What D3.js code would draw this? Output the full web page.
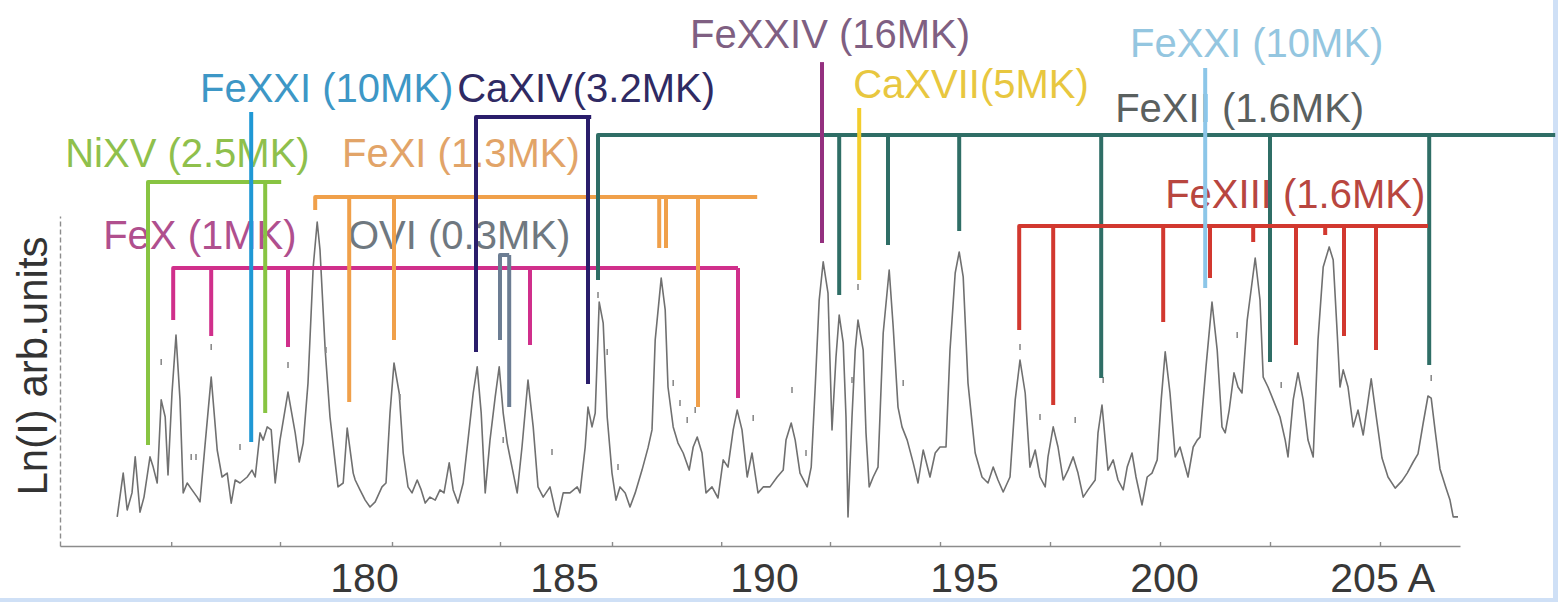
<!DOCTYPE html>
<html>
<head>
<meta charset="utf-8">
<script src="https://cdn.jsdelivr.net/npm/d3@7"></script>
<style>
  html, body { margin: 0; padding: 0; background: #fff; }
  svg { display: block; background: #fff; }
  text { font-family: "Liberation Sans", Arial, sans-serif; }
</style>
</head>
<body>
<svg id="chart"></svg>
<script>
// spectrum: [wavelength (A), Ln(I) arb. units]
const spectrum = [
  [173.83,9.7],[173.98,24.3],[174.08,12],[174.2,17.7],[174.28,29.7],[174.4,11.3],[174.5,16.3],[174.65,29.7],
  [174.73,26.3],[174.83,21],[174.93,48.7],[175.03,43],[175.1,23.7],[175.2,51],[175.3,70.3],[175.4,48.7],
  [175.48,17.7],[175.58,21],[175.7,18.7],[175.83,16.3],[175.9,14.7],[176.03,34.3],[176.18,56.3],[176.33,32],
  [176.45,23],[176.58,24.3],[176.68,14.3],[176.78,22],[176.9,21],[177.08,23],[177.2,25.3],[177.28,23],
  [177.4,37.7],[177.48,35.3],[177.58,39.7],[177.68,38.7],[177.78,21],[177.9,35.3],[178.1,51.3],[178.28,37.7],
  [178.38,28],[178.48,34.3],[178.6,54.3],[178.73,93],[178.83,108],[178.9,98.7],[179.03,65.3],[179.15,43],
  [179.28,27.7],[179.35,19.7],[179.48,21],[179.58,39.3],[179.73,24.3],[179.78,22],[179.9,18.7],[180.03,15.3],
  [180.15,13],[180.28,14.7],[180.45,19.7],[180.55,21],[180.65,44.3],[180.75,61],[180.88,51],[180.98,31],
  [181.1,19.7],[181.2,17.7],[181.33,22],[181.43,18.7],[181.53,14.3],[181.65,16.3],[181.78,15.3],[181.9,18.7],
  [182.0,17.7],[182.13,27.7],[182.23,18.7],[182.35,14.3],[182.48,21],[182.6,35.3],[182.73,51],[182.83,59.7],
  [182.93,44.3],[183.03,17.7],[183.15,35.3],[183.28,49.7],[183.38,59.7],[183.48,44.3],[183.58,34.3],[183.7,26.3],
  [183.83,17.7],[183.95,33],[184.1,55.3],[184.23,39.7],[184.35,19.7],[184.48,16.3],[184.65,19.7],[184.78,12],
  [184.85,9.7],[184.98,17.7],[185.15,17.7],[185.33,19.7],[185.4,17.7],[185.53,33],[185.6,46.3],[185.7,39.7],
  [185.78,44.3],[185.88,81.3],[185.98,74.3],[186.08,43],[186.2,24.3],[186.3,15.3],[186.4,19.7],[186.53,17.7],
  [186.65,13],[186.78,17.7],[186.95,25.3],[187.1,32.7],[187.2,38.7],[187.28,68.7],[187.43,89.3],[187.53,78.7],
  [187.6,53],[187.73,39.7],[187.85,34.3],[187.98,31],[188.13,25.3],[188.23,33],[188.33,36.3],[188.45,31],
  [188.55,17.7],[188.7,19.7],[188.85,16],[188.98,28.7],[189.1,26.3],[189.23,38.7],[189.33,45.3],[189.45,38.7],
  [189.58,23],[189.7,31],[189.85,17.7],[189.98,19.7],[190.15,19.7],[190.33,23],[190.48,25.3],[190.55,35.3],
  [190.68,41],[190.78,35.3],[190.9,24.3],[191.08,19.7],[191.18,26.3],[191.28,53],[191.38,82],[191.48,94.7],
  [191.6,84.3],[191.7,38.7],[191.8,63],[191.88,77],[191.98,67.7],[192.05,43],[192.1,9.7],[192.2,43],
  [192.28,65.3],[192.35,75.3],[192.48,65.3],[192.55,37.7],[192.63,19.7],[192.73,23],[192.85,26.3],[192.98,71],
  [193.13,92],[193.23,73],[193.35,46.3],[193.45,39.7],[193.58,35.3],[193.73,27.7],[193.85,21],[193.98,32],
  [194.15,23],[194.28,31],[194.4,33],[194.55,33],[194.65,65.3],[194.78,91],[194.88,98],[194.98,89.7],
  [195.1,54.3],[195.28,31],[195.45,23],[195.6,21],[195.73,26.3],[195.85,22],[195.98,18],[196.15,23],
  [196.28,48.7],[196.4,62],[196.53,51],[196.65,26.3],[196.78,32],[196.9,23],[197.03,19.7],[197.1,29.7],
  [197.23,39.7],[197.35,33],[197.48,22],[197.6,25.3],[197.73,29.7],[197.85,24.3],[197.98,16.3],[198.1,18.7],
  [198.28,22],[198.35,37.7],[198.45,47],[198.53,35.3],[198.6,25.3],[198.73,28.7],[198.85,22],[198.98,18.7],
  [199.08,26.3],[199.2,31],[199.3,23],[199.45,13.7],[199.58,23],[199.7,24.3],[199.83,28.7],[199.93,48.7],
  [200.03,64.7],[200.15,51],[200.28,29.7],[200.4,33],[200.6,23],[200.73,33],[200.83,35.3],[200.9,36.3],
  [201.05,59.7],[201.2,81.3],[201.33,65.3],[201.45,39.7],[201.53,37.7],[201.63,45.3],[201.75,57.7],[201.85,53],
  [201.95,51],[202.08,75.3],[202.28,96],[202.4,82],[202.48,56.3],[202.6,53],[202.73,48.7],[202.9,43],
  [203.03,35.3],[203.1,29.7],[203.23,48.7],[203.35,57.7],[203.48,48.7],[203.6,35.3],[203.73,29.7],[203.85,68.7],
  [203.98,93],[204.13,99.7],[204.23,95.3],[204.33,71],[204.4,53],[204.48,58.7],[204.6,53],[204.73,39.7],
  [204.85,45.3],[204.98,37],[205.18,55.7],[205.3,43.7],[205.45,29.3],[205.6,23],[205.78,19.3],[205.95,21.7],
  [206.08,24.3],[206.23,28],[206.35,30.7],[206.48,41],[206.6,50],[206.68,49.3],[206.78,38.3],[206.9,25.7],
  [207.05,19.3],[207.15,15.3],[207.23,9.7],[207.35,9.7]
];

// small grey error marks above the peaks
const errMarks = [
  [174.93,61.3],[175.68,29.7],[175.8,29.7],[176.18,66.3],[176.9,33],[178.1,60.3],[179.05,65.3],[180.9,49.7],
  [183.48,35.3],[184.7,31.3],[185.85,83.7],[186.08,64.7],[186.35,26.3],[187.73,54.3],[187.9,47.7],[188.08,42],
  [188.28,45.3],[189.73,42.7],[190.7,52],[191.05,31],[191.48,107],[192.2,55.3],[192.35,86.3],[193.48,54.3],
  [196.4,66.3],[196.9,43],[197.78,42],[198.48,55.3],[201.83,70.3],[202.93,53.7],[206.68,56]
];

const tickLabels = [180, 185, 190, 195, 200, 205];
const minorTicks = [175.18, 177.9, 180.7, 183.4, 186.2, 188.93, 191.65, 194.4, 197.15, 199.9, 202.65, 205.4];

// ion line identifications
// text = [wavelength, level] of label start; bar = [level, from, to]; legs = [wavelength, bottom(, top)]
const feX = { name: "FeX (1MK)", text: [173.48, 99], bar: [92.7, 175.23, 189.35],
  legs: [[175.23, 75.3], [176.18, 70], [178.1, 66.3], [184.15, 67], [189.35, 49.3]] };
const niXV = { name: "NiXV (2.5MK)", text: [172.53, 126.3], bar: [121.3, 174.6, 177.93],
  legs: [[174.6, 33.7], [177.53, 44.3]] };
const feXI = { name: "FeXI (1.3MK)", text: [179.45, 126.3], bar: [116.3, 178.78, 189.83],
  legs: [[178.78, 112], [179.63, 48], [180.75, 68.7], [187.38, 99.3], [187.55, 99.3], [188.35, 46.3]] };
const oVI = { name: "OVI (0.3MK)", text: [179.6, 99], bar: [97, 183.4, 183.63],
  legs: [[183.4, 68.7], [183.63, 46.3]] };
const caXIV = { name: "CaXIV(3.2MK)", text: [182.33, 148], bar: [143, 182.8, 185.68],
  legs: [[182.8, 64.7], [185.6, 54]] };
const feXXIa = { name: "FeXXI (10MK)", text: [175.9, 148], bar: null,
  legs: [[177.18, 34.7, 144.7]] };
const feXII = { name: "FeXII (1.6MK)", text: [198.78, 141.3], bar: [137, 185.85, 209.78],
  legs: [[185.85, 88.7], [191.88, 83.7], [193.1, 100.3], [194.88, 105], [198.43, 56], [202.65, 61.3], [206.63, 60.3]] };
const feXIII = { name: "FeXIII (1.6MK)", text: [200.03, 112.7], bar: [106.7, 196.38, 206.6],
  legs: [[196.38, 72], [197.23, 47], [199.98, 74.7], [201.15, 89.3], [202.23, 101.3], [203.3, 67], [204.03, 103.7], [204.5, 70], [205.3, 65.3]] };
const feXXIV = { name: "FeXXIV (16MK)", text: [188.15, 166], bar: null,
  legs: [[191.45, 101, 161.3]] };
const caXVII = { name: "CaXVII(5MK)", text: [192.23, 149.3], bar: null,
  legs: [[192.38, 88.7, 146]] };
const feXXIb = { name: "FeXXI (10MK)", text: [199.15, 163], bar: null,
  legs: [[201.03, 86, 159.3]] };

// colours: line and label
const ions = [
  { ion: feX,    line: "#d02f8b", label: "#b04f8e" },
  { ion: niXV,   line: "#88c442", label: "#8fc04c" },
  { ion: feXI,   line: "#f0a04a", label: "#e2a468" },
  { ion: feXII,  line: "#2f6e66", label: "#5a605f" },
  { ion: feXIII, line: "#d2382f", label: "#b8463f" },
  { ion: oVI,    line: "#6c7d93", label: "#6f7880" },
  { ion: caXIV,  line: "#2a1d6b", label: "#2f2a63" },
  { ion: feXXIa, line: "#1f98d5", label: "#3d97c6" },
  { ion: feXXIV, line: "#94307f", label: "#7f5f82" },
  { ion: caXVII, line: "#f3cd2c", label: "#e8c73f" },
  { ion: feXXIb, line: "#8cc6e8", label: "#94c6e0" }
];

const width = 1558, height = 602;
const svg = d3.select("#chart").attr("width", width).attr("height", height);

// slide border (light blue frame at right and bottom)
svg.append("rect").attr("x", width - 5).attr("y", 0).attr("width", 5).attr("height", height).attr("fill", "#cfe0f6");
svg.append("rect").attr("x", 0).attr("y", height - 4).attr("width", width).attr("height", 4).attr("fill", "#cfe0f6");

const x = d3.scaleLinear().domain([172.4, 207.4]).range([60, 1460]);
const y = d3.scaleLinear().domain([0, 110]).range([546, 216]);

// axes
const xAxis = svg.append("g")
  .attr("transform", `translate(0,${y(0)})`)
  .call(d3.axisBottom(x).tickValues(minorTicks).tickSize(-4).tickSizeOuter(0).tickFormat(""));
xAxis.select(".domain").attr("stroke", "#8c8c8c").attr("stroke-width", 1.6);
xAxis.selectAll(".tick line").attr("stroke", "#8c8c8c").attr("stroke-width", 1.4);

const xLab = svg.append("g")
  .attr("transform", `translate(0,${y(0)})`)
  .call(d3.axisBottom(x).tickValues(tickLabels).tickSize(0)
    .tickFormat(d => d === 205 ? "205 A" : d));
xLab.select(".domain").remove();
xLab.selectAll("text")
  .attr("y", 46).attr("dy", 0)
  .attr("fill", "#383838")
  .style("font-size", "41px")
  .style("font-family", "'Liberation Sans', Arial, sans-serif");
// keep the number of the last label centred on its value
xLab.selectAll("text").filter(d => d === 205).each(function() {
  const full = this.getComputedTextLength();
  const num = this.getSubStringLength(0, 3);
  d3.select(this).attr("dx", (full - num) / 2);
});

const yAxis = svg.append("g")
  .attr("transform", `translate(${x.range()[0]},0)`)
  .call(d3.axisLeft(y).tickValues([]).tickSizeOuter(0));
yAxis.select(".domain").attr("stroke", "#8c8c8c").attr("stroke-width", 1.4).attr("stroke-dasharray", "5,3");

svg.append("text")
  .attr("transform", `translate(47,${y(60)}) rotate(-90)`)
  .attr("text-anchor", "middle")
  .attr("fill", "#333")
  .style("font-size", "42px")
  .text("Ln(I) arb.units");

// spectrum
const line = d3.line().x(d => x(d[0])).y(d => y(d[1]));
svg.append("path")
  .datum(spectrum)
  .attr("fill", "none")
  .attr("stroke", "#707070")
  .attr("stroke-width", 1.6)
  .attr("stroke-linejoin", "round")
  .attr("d", line);

svg.append("g").selectAll("line")
  .data(errMarks)
  .join("line")
  .attr("x1", d => x(d[0])).attr("x2", d => x(d[0]))
  .attr("y1", d => y(d[1]) - 3).attr("y2", d => y(d[1]) + 3)
  .attr("stroke", "#8a8a8a")
  .attr("stroke-width", 1.6);

// ion labels
svg.append("g").selectAll("text")
  .data(ions)
  .join("text")
  .attr("x", d => x(d.ion.text[0]))
  .attr("y", d => y(d.ion.text[1]))
  .attr("fill", d => d.label)
  .style("font-size", "40px")
  .text(d => d.ion.name);

// ion brackets and line markers
function markerPath(ion) {
  if (!ion.bar) {
    return ion.legs.map(l => `M${x(l[0])},${y(l[2])}V${y(l[1])}`).join("");
  }
  const [level, from, to] = ion.bar;
  const [first, ...rest] = ion.legs;
  let d = `M${x(first[0])},${y(first[1])}V${y(level)}H${x(to)}`;
  rest.forEach(l => { d += `M${x(l[0])},${y(level)}V${y(l[1])}`; });
  return d;
}

svg.append("g").selectAll("path")
  .data(ions)
  .join("path")
  .attr("d", d => markerPath(d.ion))
  .attr("fill", "none")
  .attr("stroke", d => d.line)
  .attr("stroke-width", 4)
  .attr("stroke-linejoin", "round");
</script>
</body>
</html>
